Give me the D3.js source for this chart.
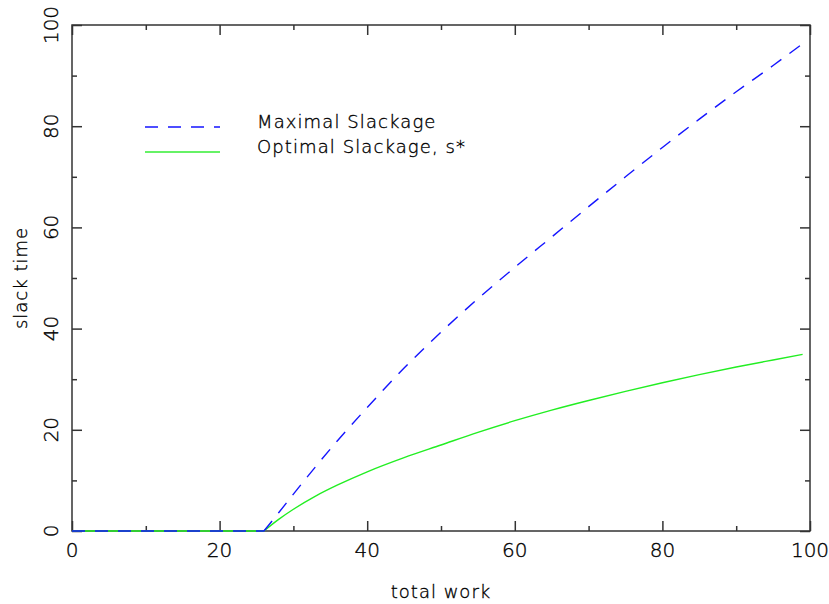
<!DOCTYPE html>
<html>
<head>
<meta charset="utf-8">
<script src="https://cdn.jsdelivr.net/npm/d3@7"></script>
<style>
  body { margin: 0; background: #fff; }
  text { font-family: "DejaVu Sans", "Liberation Sans", sans-serif; font-weight: 200; fill: #000; stroke: #000; stroke-width: 0.35; }
</style>
</head>
<body>
<svg id="chart" width="829" height="604"></svg>
<script>
// total work values (x) shared by both series
const workX = [0, 10, 20, 26, 28, 30, 33, 36, 40, 45, 50, 55, 60, 65, 70, 75, 80, 85, 90, 95, 99];
// maximal slackage (blue dashed)
const maxSlack = [0, 0, 0, 0, 3.6, 7.3, 12.7, 17.9, 24.4, 32.2, 39.3, 45.9, 52.1, 58.1, 64.1, 70.0, 75.8, 81.4, 86.8, 92.0, 96.3];
// optimal slackage s* (green solid)
const optSlack = [0, 0, 0, 0, 2.3, 4.3, 6.9, 9.1, 11.7, 14.5, 17.0, 19.5, 21.8, 23.9, 25.8, 27.6, 29.3, 30.9, 32.4, 33.8, 34.9];
const majorTicks = [0, 20, 40, 60, 80, 100];
const minorTicks = [10, 30, 50, 70, 90];
const legendLabels = ['Maximal Slackage', 'Optimal Slackage, s*'];

const margin = {top: 25, right: 19, bottom: 73, left: 72};
const width = 829, height = 604;
const svg = d3.select('#chart');

const x = d3.scaleLinear().domain([0, 100]).range([margin.left, width - margin.right]);
const y = d3.scaleLinear().domain([0, 100]).range([height - margin.bottom, margin.top]);

const frameColor = '#333';
const plotBottom = height - margin.bottom, plotTop = margin.top;
const plotLeft = margin.left, plotRight = width - margin.right;

// ticks on all four sides, pointing inward
function tickAxis(axisFn, scale, values, size, pos) {
  const g = svg.append('g')
    .attr('transform', pos)
    .call(axisFn(scale).tickValues(values).tickSize(size).tickFormat(''));
  g.select('.domain').remove();
  g.selectAll('line').attr('stroke', frameColor).attr('stroke-width', 1.5);
  return g;
}
tickAxis(d3.axisBottom, x, majorTicks, -10, `translate(0,${plotBottom})`);
tickAxis(d3.axisBottom, x, minorTicks, -5, `translate(0,${plotBottom})`);
tickAxis(d3.axisTop, x, majorTicks, -10, `translate(0,${plotTop})`);
tickAxis(d3.axisTop, x, minorTicks, -5, `translate(0,${plotTop})`);
tickAxis(d3.axisLeft, y, majorTicks, -10, `translate(${plotLeft},0)`);
tickAxis(d3.axisLeft, y, minorTicks, -5, `translate(${plotLeft},0)`);
tickAxis(d3.axisRight, y, majorTicks, -10, `translate(${plotRight},0)`);
tickAxis(d3.axisRight, y, minorTicks, -5, `translate(${plotRight},0)`);

svg.append('rect')
  .attr('x', plotLeft).attr('y', plotTop)
  .attr('width', plotRight - plotLeft).attr('height', plotBottom - plotTop)
  .attr('fill', 'none').attr('stroke', frameColor).attr('stroke-width', 1.5);

// tick labels
svg.append('g').selectAll('text')
  .data(majorTicks).join('text')
  .attr('x', d => x(d)).attr('y', plotBottom + 26)
  .attr('text-anchor', 'middle').attr('font-size', 20)
  .text(d => d);

svg.append('g').selectAll('text')
  .data(majorTicks).join('text')
  .attr('transform', d => `translate(58,${y(d)}) rotate(-90)`)
  .attr('text-anchor', 'middle').attr('font-size', 20)
  .text(d => d);

// axis titles
svg.append('text')
  .attr('x', (plotLeft + plotRight) / 2).attr('y', 598)
  .attr('text-anchor', 'middle').attr('font-size', 18)
  .attr('letter-spacing', 1)
  .text('total work');

svg.append('text')
  .attr('transform', `translate(27,${(plotTop + plotBottom) / 2}) rotate(-90)`)
  .attr('text-anchor', 'middle').attr('font-size', 18)
  .attr('letter-spacing', 1)
  .text('slack time');

// curves: flat part straight, rising part smoothed
const flatLine = d3.line().x(d => x(d[0])).y(d => y(d[1]));
const riseLine = d3.line().x(d => x(d[0])).y(d => y(d[1])).curve(d3.curveMonotoneX);
function seriesPath(vals) {
  const pts = workX.map((w, i) => [w, vals[i]]);
  const knee = workX.indexOf(26);
  return flatLine(pts.slice(0, knee + 1)) + riseLine(pts.slice(knee));
}

svg.append('path')
  .attr('d', seriesPath(optSlack))
  .attr('fill', 'none').attr('stroke', '#22ee22').attr('stroke-width', 1.4);

svg.append('path')
  .attr('d', seriesPath(maxSlack))
  .attr('fill', 'none').attr('stroke', '#1414ff').attr('stroke-width', 1.4)
  .attr('stroke-dasharray', '13,10');

// legend
const legend = svg.append('g');
const legendStyles = [
  {color: '#1414ff', dash: '13,10', y: 127},
  {color: '#33ee33', dash: null, y: 152}
];
legendLabels.forEach((lab, i) => {
  const s = legendStyles[i];
  legend.append('line')
    .attr('x1', 145).attr('x2', 220)
    .attr('y1', s.y).attr('y2', s.y)
    .attr('stroke', s.color).attr('stroke-width', 1.4)
    .attr('stroke-dasharray', s.dash);
  legend.append('text')
    .attr('x', 257).attr('y', s.y + 0.5)
    .attr('font-size', 18)
    .attr('letter-spacing', 1.1)
    .text(lab);
});
</script>
</body>
</html>
